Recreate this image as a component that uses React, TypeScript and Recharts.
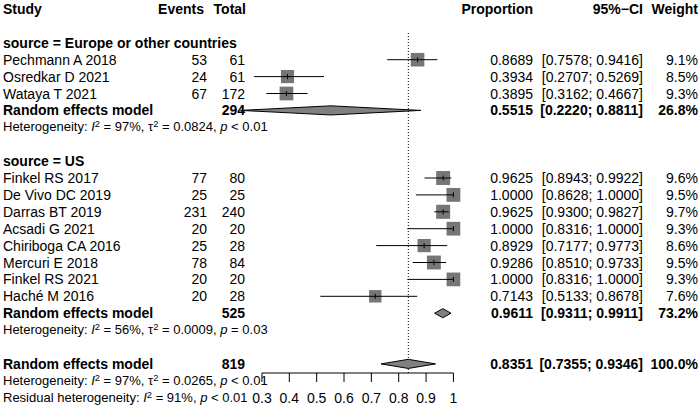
import React from "react";
import { ScatterChart, Scatter, XAxis, YAxis, ReferenceLine } from "recharts";

// study rows, source = Europe or other countries
const europeStudies = ["Pechmann A 2018", "Osredkar D 2021", "Wataya T 2021"];
const europeEvents = [53, 24, 67];
const europeTotals = [61, 61, 172];
const europeProp = [0.8689, 0.3934, 0.3895];
const europeLower = [0.7578, 0.2707, 0.3162];
const europeUpper = [0.9416, 0.5269, 0.4667];
const europeWeight = [9.1, 8.5, 9.3];

// study rows, source = US
const usStudies = [
  "Finkel RS 2017",
  "De Vivo DC 2019",
  "Darras BT 2019",
  "Acsadi G 2021",
  "Chiriboga CA 2016",
  "Mercuri E 2018",
  "Finkel RS 2021",
  "Haché M 2016",
];
const usEvents = [77, 25, 231, 20, 25, 78, 20, 20];
const usTotals = [80, 25, 240, 20, 28, 84, 20, 28];
const usProp = [0.9625, 1.0, 0.9625, 1.0, 0.8929, 0.9286, 1.0, 0.7143];
const usLower = [0.8943, 0.8628, 0.93, 0.8316, 0.7177, 0.851, 0.8316, 0.5133];
const usUpper = [0.9922, 1.0, 0.9827, 1.0, 0.9773, 0.9733, 1.0, 0.8678];
const usWeight = [9.6, 9.5, 9.7, 9.3, 8.6, 9.5, 9.3, 7.6];

// random effects models: Europe, US, overall
const summaryTotals = [294, 525, 819];
const summaryProp = [0.5515, 0.9611, 0.8351];
const summaryLower = [0.222, 0.9311, 0.7355];
const summaryUpper = [0.8811, 0.9911, 0.9346];
const summaryWeight = [26.8, 73.2, 100.0];

const hetI2 = [97, 56, 97];
const hetTau2 = ["0.0824", "0.0009", "0.0265"];
const hetP = ["< 0.01", "= 0.03", "< 0.01"];
const residualI2 = 91;
const residualP = "< 0.01";

const groupLabels = ["source = Europe or other countries", "source = US"];
const axisTicks = [0.3, 0.4, 0.5, 0.6, 0.7, 0.8, 0.9, 1];

// layout
const W = 700;
const H = 408;
const ROW0 = 9;
const ROW_H = 16.9;
const rowY = (r: number) => ROW0 + r * ROW_H;
const AXIS_PX = 373;
const Y_MIN = -ROW0 / ROW_H;
const Y_MAX = (AXIS_PX - ROW0) / ROW_H;
const FONT = '"Liberation Sans", Arial, sans-serif';

const europeRows = [3, 4, 5];
const usRows = [10, 11, 12, 13, 14, 15, 16, 17];
const summaryRows = [6, 18, 21];
const hetRows = [7, 19, 22];

type Study = {
  name: string;
  events: number;
  total: number;
  prop: number;
  lower: number;
  upper: number;
  weight: number;
  row: number;
};

const studies: Study[] = [
  ...europeStudies.map((name, i) => ({
    name,
    events: europeEvents[i],
    total: europeTotals[i],
    prop: europeProp[i],
    lower: europeLower[i],
    upper: europeUpper[i],
    weight: europeWeight[i],
    row: europeRows[i],
  })),
  ...usStudies.map((name, i) => ({
    name,
    events: usEvents[i],
    total: usTotals[i],
    prop: usProp[i],
    lower: usLower[i],
    upper: usUpper[i],
    weight: usWeight[i],
    row: usRows[i],
  })),
];

const squareData = studies.map((s) => ({ x: s.prop, y: s.row, weight: s.weight }));

const DIAMOND_HALF = 0.27;
const diamonds = summaryProp.map((p, i) => {
  const r = summaryRows[i];
  return [
    { x: summaryLower[i], y: r },
    { x: p, y: r - DIAMOND_HALF },
    { x: summaryUpper[i], y: r },
    { x: p, y: r + DIAMOND_HALF },
    { x: summaryLower[i], y: r },
  ];
});

const Square = (props: any) => {
  const { cx, cy, payload } = props;
  const s = 4.5 * Math.sqrt(payload.weight);
  return <rect x={cx - s / 2} y={cy - s / 2} width={s} height={s} fill="#767676" />;
};

const CiMark = (props: any) => {
  const { cx, cy, payload } = props;
  if (!payload.mark) return <g />;
  return <line x1={cx} x2={cx} y1={cy - 2.5} y2={cy + 2.5} stroke="#000" strokeWidth={1} />;
};

const Empty = () => <g />;

const Txt = ({
  x,
  row,
  right,
  bold,
  size = 14,
  children,
}: {
  x: number;
  row: number;
  right?: boolean;
  bold?: boolean;
  size?: number;
  children: React.ReactNode;
}) => (
  <div
    style={{
      position: "absolute",
      top: rowY(row) - 8,
      left: right ? undefined : x,
      right: right ? W - x : undefined,
      fontSize: size,
      lineHeight: "16px",
      fontWeight: bold ? 700 : 400,
      whiteSpace: "pre",
    }}
  >
    {children}
  </div>
);

const sup = { fontSize: "0.72em", verticalAlign: "0.45em", lineHeight: 0 } as const;
const HET_SIZE = 13;

const Het = ({ i, row }: { i: number; row: number }) => (
  <Txt x={3} row={row} size={HET_SIZE}>
    Heterogeneity: <i>I</i>
    <span style={sup}>2</span> = {hetI2[i]}%, τ<span style={sup}>2</span> = {hetTau2[i]}, <i>p</i> {hetP[i]}
  </Txt>
);

const fmt = (v: number) => v.toFixed(4);

export default function App() {
  return (
    <div
      style={{
        position: "fixed",
        left: 0,
        top: 0,
        width: W,
        height: H,
        background: "#fff",
        fontFamily: FONT,
        color: "#000",
      }}
    >
      <ScatterChart
        width={W}
        height={H}
        margin={{ top: 0, right: 232.9, left: 234.6, bottom: 0 }}
        style={{ fontFamily: FONT }}
      >
        <XAxis
          type="number"
          dataKey="x"
          domain={[0.2, 1.05]}
          allowDataOverflow
          ticks={axisTicks}
          interval={0}
          height={H - AXIS_PX}
          axisLine={false}
          tickLine={{ stroke: "#000" }}
          tickSize={9}
          tickMargin={11}
          tick={{ fill: "#000", fontSize: 14, fontFamily: FONT }}
          tickFormatter={(v: number) => String(v)}
        />
        <YAxis type="number" dataKey="y" domain={[Y_MIN, Y_MAX]} allowDataOverflow reversed hide />
        <ReferenceLine
          segment={[
            { x: summaryProp[2], y: 1.42 },
            { x: summaryProp[2], y: Y_MAX },
          ]}
          stroke="#000"
          strokeDasharray="1 2"
          ifOverflow="visible"
        />
        <ReferenceLine
          segment={[
            { x: axisTicks[0], y: Y_MAX },
            { x: axisTicks[axisTicks.length - 1], y: Y_MAX },
          ]}
          stroke="#000"
          ifOverflow="visible"
        />
        <Scatter data={squareData} shape={Square} isAnimationActive={false} />
        {studies.map((s) => (
          <Scatter
            key={s.name}
            data={[
              { x: s.lower, y: s.row },
              { x: s.prop, y: s.row, mark: true },
              { x: s.upper, y: s.row },
            ]}
            line={{ stroke: "#000", strokeWidth: 1 }}
            shape={CiMark}
            isAnimationActive={false}
          />
        ))}
        {diamonds.map((d, i) => (
          <Scatter
            key={"d" + i}
            data={d}
            line={{ stroke: "#000", strokeWidth: 1, fill: "#808080" }}
            shape={Empty}
            isAnimationActive={false}
          />
        ))}
      </ScatterChart>

      <div style={{ position: "absolute", left: 0, top: 0, width: W, height: H, pointerEvents: "none" }}>
        <Txt x={3} row={0} bold>
          Study
        </Txt>
        <Txt x={204} row={0} right bold>
          Events
        </Txt>
        <Txt x={246} row={0} right bold>
          Total
        </Txt>
        <Txt x={533} row={0} right bold>
          Proportion
        </Txt>
        <Txt x={643} row={0} right bold>
          95%−CI
        </Txt>
        <Txt x={698} row={0} right bold>
          Weight
        </Txt>

        <Txt x={3} row={2} bold>
          {groupLabels[0]}
        </Txt>
        <Txt x={3} row={9} bold>
          {groupLabels[1]}
        </Txt>

        {studies.map((s) => (
          <React.Fragment key={s.name}>
            <Txt x={3} row={s.row}>
              {s.name}
            </Txt>
            <Txt x={207} row={s.row} right>
              {s.events}
            </Txt>
            <Txt x={245} row={s.row} right>
              {s.total}
            </Txt>
            <Txt x={533} row={s.row} right>
              {fmt(s.prop)}
            </Txt>
            <Txt x={643} row={s.row} right>
              [{fmt(s.lower)}; {fmt(s.upper)}]
            </Txt>
            <Txt x={698} row={s.row} right>
              {s.weight.toFixed(1)}%
            </Txt>
          </React.Fragment>
        ))}

        {summaryRows.map((r, i) => (
          <React.Fragment key={"s" + i}>
            <Txt x={3} row={r} bold>
              Random effects model
            </Txt>
            <Txt x={245} row={r} right bold>
              {summaryTotals[i]}
            </Txt>
            <Txt x={533} row={r} right bold>
              {fmt(summaryProp[i])}
            </Txt>
            <Txt x={643} row={r} right bold>
              [{fmt(summaryLower[i])}; {fmt(summaryUpper[i])}]
            </Txt>
            <Txt x={698} row={r} right bold>
              {summaryWeight[i].toFixed(1)}%
            </Txt>
          </React.Fragment>
        ))}

        {hetRows.map((r, i) => (
          <Het key={"h" + i} i={i} row={r} />
        ))}
        <Txt x={3} row={23} size={HET_SIZE}>
          Residual heterogeneity: <i>I</i>
          <span style={sup}>2</span> = {residualI2}%, <i>p</i> {residualP}
        </Txt>
      </div>
    </div>
  );
}
